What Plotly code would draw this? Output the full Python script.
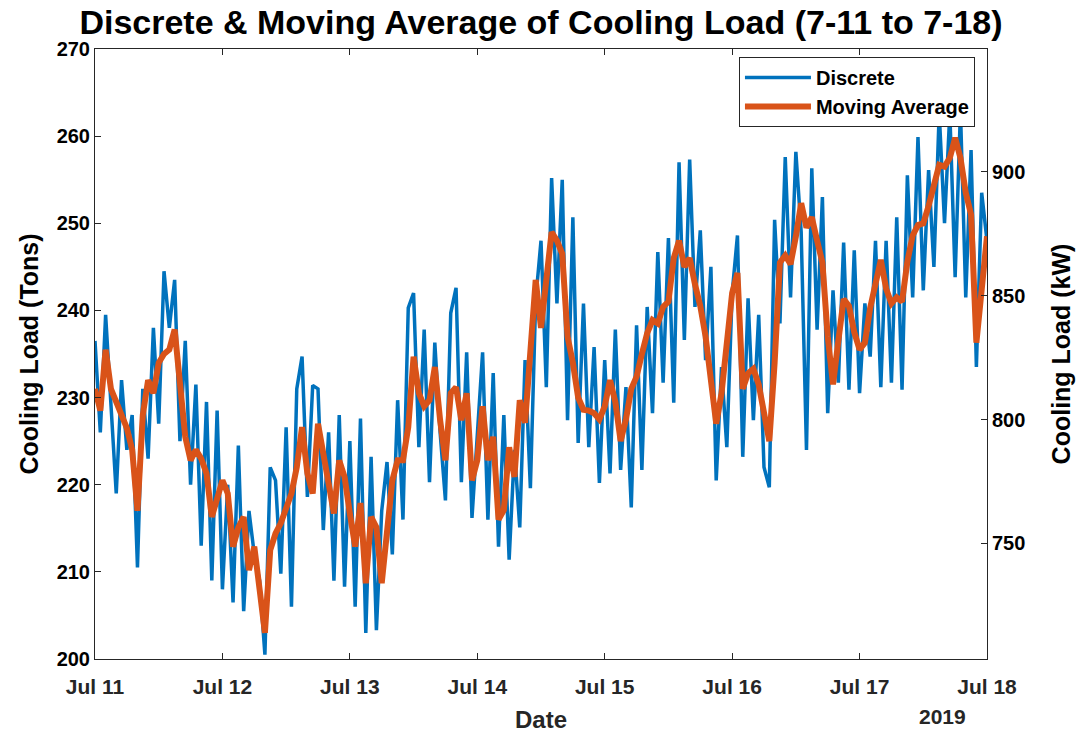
import pandas as pd
import plotly.graph_objects as go

# ---- data (hourly, Jul 11 00:00 -> Jul 18 00:00, 2019) ----
start_time = "2019-07-11 00:00"
n_hours = 169

discrete_tons = [
    236.5, 226, 239.5, 230, 219, 232, 224, 228, 210.5, 231, 223, 238, 227, 244.5, 238, 243.5,
    225, 236.5, 220, 231.5, 213, 229.5, 209, 228.5, 208, 220, 206.5, 224.5, 205.5, 217, 212,
    209, 200.5, 222, 220.5, 209.8, 226.6, 206, 231, 234.7, 218.6, 231.4,
    231, 214.8, 226, 209, 228, 208.3, 225, 206, 227.6, 203, 223.2, 203.3, 217, 222.6, 212,
    229.7, 216, 240.3, 242, 224.3, 237.8, 220.3, 236.3, 226, 218.2, 239.7, 242.6, 220.3, 235.2,
    216.2, 226, 235.2, 216, 232.8, 212.9, 228, 211.4, 224, 215.1, 234.3, 219.6, 241.2,
    248, 231.2, 255.2, 240.8, 255, 227.4, 250.7, 224.8, 240.8, 224.3, 235.8, 220.2, 234.3,
    221.3, 237.8, 221.7, 231.2, 217.4, 238.3, 221.7, 240.4, 228.2, 246.7, 231.7, 248.3, 229.4,
    257, 236.6, 257.3, 240.4, 249.2, 234.3, 245, 220.5, 233.5, 224.3, 242, 248.6, 223.2, 241.4,
    227.4, 239.5,
    222, 219.7, 250.4, 238.5, 257.6, 241.5, 258.2, 249, 224, 256.3, 237.8, 253, 228.2, 242.3,
    231.7, 247.8, 230.9, 246.9, 230.5, 240.8, 234.7, 248, 231.2, 248, 231.7, 250.7, 230.9,
    255.5, 241.5, 259.9, 242.3, 256.1, 245, 262.7, 250, 262.7, 243.8, 263, 241.5, 258.4,
    233.5, 253.5, 248,
]

moving_avg_tons = [
    231, 228.5, 235.5, 231, 229.5, 228, 226.5, 224, 217, 228, 232, 230.5, 234, 235, 235.5,
    237.8, 231.5, 225.5, 222.8, 224, 223, 221.3, 216.3, 218.2, 220.5, 219, 212.9, 215.1, 216.3,
    210.2, 212.9, 208, 203, 212.5, 214.4, 215.6, 217.5, 219, 222, 226.6, 221.3, 219,
    227, 223.6, 220.5, 216.7, 222.8, 220.9, 216.7, 212.9, 217.9, 208.7, 216.3, 215.1, 208.7,
    214, 220.5, 222.8, 222.8, 226.6, 234.7, 230.5, 229, 229.7, 233.5, 227.4, 222.8, 230.5,
    231.2, 227.4, 230.5, 220.5, 222.8, 229, 222.8, 225.5, 216, 217.1, 224.3, 220.9, 229.7,
    227.1, 235.8, 243.5,
    238, 243, 249, 248, 246.5, 237, 234, 230, 228.6, 228.5, 228.2, 227.5, 229, 232, 229.5,
    225, 227.5, 231, 232.4, 235, 237.4, 238.9, 238.5, 240.4, 241, 246, 248, 245, 246, 243,
    240.5, 237, 231.5, 227, 230.5, 237, 242, 244.3, 231, 232.8, 233.3, 231.5,
    228, 225, 234, 245.5, 246.3, 245.3, 248.5, 252.3, 249.5, 250.7, 248, 245.5, 237, 231.5,
    236.5, 241.3, 240.5, 237.5, 235.5, 236.3, 240.3, 243.3, 245.8, 242.5, 240.8, 241.5, 241,
    245.6, 248.6, 249.8, 250, 252, 254.3, 256.7, 256.5, 257.5, 259.8, 257.5, 253.5, 251,
    236.3, 242, 248.5,
]

ton_to_kw = 3.51685
left_ticks = [200, 210, 220, 230, 240, 250, 260, 270]
right_ticks = [750, 800, 850, 900]
day_ticks = ["2019-07-11", "2019-07-12", "2019-07-13", "2019-07-14",
             "2019-07-15", "2019-07-16", "2019-07-17", "2019-07-18"]
day_labels = ["Jul 11", "Jul 12", "Jul 13", "Jul 14", "Jul 15", "Jul 16", "Jul 17", "Jul 18"]

times = pd.date_range(start_time, periods=n_hours, freq="h")

FONT = "Liberation Sans, Arial, sans-serif"
AX = "#262626"

fig = go.Figure()
fig.add_trace(go.Scatter(
    x=times, y=discrete_tons, mode="lines", name="Discrete",
    line=dict(color="#0072BD", width=3.5), hoverinfo="skip",
))
fig.add_trace(go.Scatter(
    x=times, y=moving_avg_tons, mode="lines", name="Moving Average",
    line=dict(color="#D95319", width=6), hoverinfo="skip",
))
# invisible trace to attach the kW axis
fig.add_trace(go.Scatter(
    x=times, y=[v * ton_to_kw for v in moving_avg_tons], yaxis="y2", mode="lines",
    line=dict(width=0), opacity=0, showlegend=False, hoverinfo="skip",
))

fig.update_layout(
    width=1086, height=733,
    margin=dict(l=95, r=99, t=49, b=74, autoexpand=False),
    paper_bgcolor="white", plot_bgcolor="white",
    font=dict(family=FONT, color="black"),
    title=dict(
        text="<b>Discrete & Moving Average of Cooling Load (7-11 to 7-18)</b>",
        x=0.5, xanchor="center", xref="paper", y=0.970, yanchor="middle",
        font=dict(family=FONT, size=34, color="black"),
    ),
    showlegend=True,
    legend=dict(
        x=0.9865, y=0.987, xanchor="right", yanchor="top",
        bgcolor="white", bordercolor="#262626", borderwidth=1,
        font=dict(family=FONT, size=20, color="black", weight="bold"),
        itemwidth=66, tracegroupgap=0,
    ),
    xaxis=dict(
        range=[day_ticks[0], day_ticks[-1]], automargin=False,
        tickmode="array", tickvals=day_ticks, ticktext=day_labels,
        ticks="inside", ticklen=6, tickcolor=AX, tickwidth=1,
        showline=True, linecolor=AX, linewidth=1, mirror="ticks",
        showgrid=False, zeroline=False, ticklabelstandoff=9,
        tickfont=dict(family=FONT, size=21, color=AX, weight="bold"),
        title=dict(text="Date", standoff=14,
                   font=dict(family=FONT, size=24, color=AX, weight="bold")),
    ),
    yaxis=dict(
        range=[200, 270], tickmode="array", tickvals=left_ticks, automargin=False,
        ticks="inside", ticklen=6, tickcolor=AX, tickwidth=1,
        showline=True, linecolor=AX, linewidth=1,
        showgrid=False, zeroline=False,
        tickfont=dict(family=FONT, size=20, color="black", weight="bold"),
        title=dict(text="Cooling Load (Tons)", standoff=10,
                   font=dict(family=FONT, size=25, color="black", weight="bold")),
    ),
    yaxis2=dict(
        overlaying="y", side="right", anchor="x", automargin=False,
        range=[200 * ton_to_kw, 270 * ton_to_kw], tickmode="array", tickvals=right_ticks,
        ticks="inside", ticklen=6, tickcolor=AX, tickwidth=1,
        showline=True, linecolor=AX, linewidth=1,
        showgrid=False, zeroline=False,
        tickfont=dict(family=FONT, size=20, color="black", weight="bold"),
        title=dict(text="Cooling Load (kW)", standoff=28,
                   font=dict(family=FONT, size=25, color="black", weight="bold")),
    ),
    annotations=[dict(
        text="<b>2019</b>", xref="paper", yref="paper", x=(942 - 95) / 892, y=-0.095,
        xanchor="center", yanchor="middle", showarrow=False,
        font=dict(family=FONT, size=21, color=AX),
    )],
)

fig.write_html("out.html")
